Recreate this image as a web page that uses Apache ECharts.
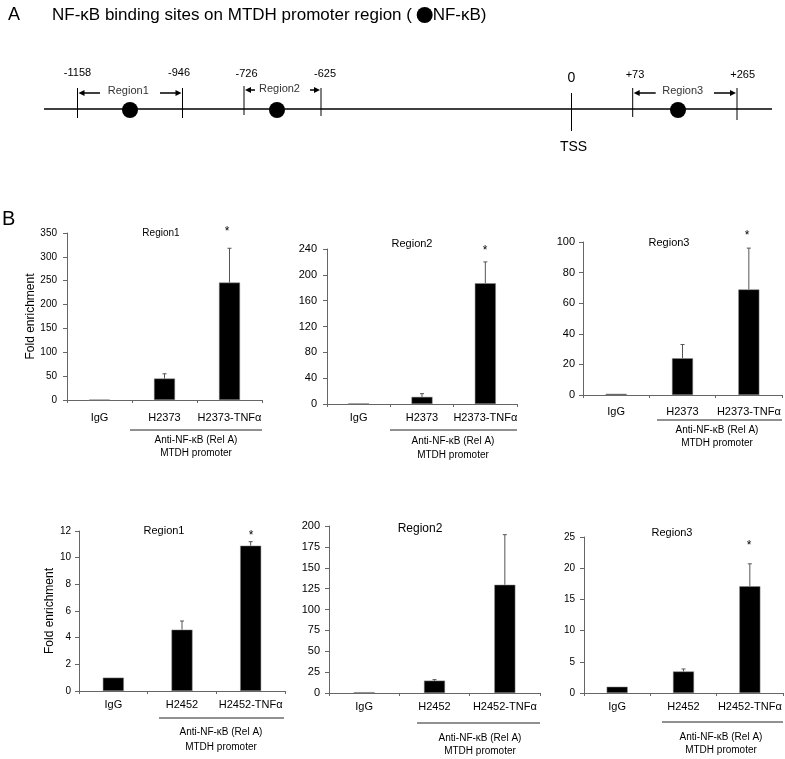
<!DOCTYPE html>
<html><head><meta charset="utf-8">
<script src="https://cdn.jsdelivr.net/npm/echarts@6/dist/echarts.min.js"></script>
<style>html,body{margin:0;padding:0;background:#fff}#c{width:785px;height:759px}</style>
</head><body><div id="c"></div><script>
// ---------------- DATA ----------------
const categoriesH2373 = ['IgG', 'H2373', 'H2373-TNFα'];
const categoriesH2452 = ['IgG', 'H2452', 'H2452-TNFα'];
const regionTitles = ['Region1', 'Region2', 'Region3'];

const h2373Region1 = [1, 45, 246];
const h2373Region1Err = [0, 10, 72];
const h2373Region2 = [1, 11, 187];
const h2373Region2Err = [0, 5, 33];
const h2373Region3 = [0.8, 24, 69];
const h2373Region3Err = [0, 9, 27];

const h2452Region1 = [1, 4.6, 10.9];
const h2452Region1Err = [0, 0.65, 0.3];
const h2452Region2 = [1, 14.8, 129.6];
const h2452Region2Err = [0, 1.2, 60];
const h2452Region3 = [1, 3.45, 17.1];
const h2452Region3Err = [0, 0.4, 3.6];

const yMax = [350, 240, 100, 12, 200, 25];
const yInterval = [50, 40, 20, 2, 25, 5];
const significant = [true, true, true, true, false, true];

const siteLabels = ['-1158', '-946', '-726', '-625', '0', '+73', '+265'];
const regionNames = ['Region1', 'Region2', 'Region3'];
const groupLabel = 'Anti-NF-κB (Rel A)';
const promoterLabel = 'MTDH promoter';
const yName = 'Fold enrichment';

// ---------------- LAYOUT ----------------
const FONT = "'Liberation Sans', Arial, sans-serif";
const panels = [
  {left: 67, top: 233, width: 195, height: 167, cats: categoriesH2373, means: h2373Region1, errs: h2373Region1Err, title: regionTitles[0], tfs: 10, lfs: 10, lm: 10, xm: 12, titleXY: [161, 233], star: [227, 232], ul: [130, 262, 430], txtX: 196, txtY: [440, 453], name: true, nameGap: 27},
  {left: 327, top: 249, width: 190, height: 155, cats: categoriesH2373, means: h2373Region2, errs: h2373Region2Err, title: regionTitles[1], tfs: 11, lfs: 11, lm: 10, xm: 8, titleXY: [412, 244], star: [485, 251], ul: [390, 517, 430], txtX: 453, txtY: [441, 455]},
  {left: 583, top: 242, width: 199, height: 153, cats: categoriesH2373, means: h2373Region3, errs: h2373Region3Err, title: regionTitles[2], tfs: 11, lfs: 11, lm: 8, xm: 11, titleXY: [669, 243], star: [747, 236], ul: [657, 782, 420], txtX: 717, txtY: [430, 443]},
  {left: 79, top: 531, width: 206, height: 160, cats: categoriesH2452, means: h2452Region1, errs: h2452Region1Err, title: regionTitles[0], tfs: 11, lfs: 10, lm: 8, xm: 8, titleXY: [164, 531], star: [251, 536], ul: [159, 284, 718], txtX: 221, txtY: [732, 747], name: true, nameGap: 19},
  {left: 329, top: 526, width: 211, height: 167, cats: categoriesH2452, means: h2452Region2, errs: h2452Region2Err, title: regionTitles[1], tfs: 12, lfs: 11, lm: 9, xm: 8, titleXY: [420, 529], star: null, ul: [417, 540, 723], txtX: 480, txtY: [738, 751]},
  {left: 584, top: 537, width: 199, height: 156, cats: categoriesH2452, means: h2452Region3, errs: h2452Region3Err, title: regionTitles[2], tfs: 11, lfs: 10, lm: 9, xm: 8, titleXY: [672, 533], star: [749, 546], ul: [662, 783, 722], txtX: 721, txtY: [737, 750]}
];

// schematic layout for panel A (diagram units = px along the drawn line)
const siteX = [77.5, 182.5, 244, 321, 571.5, 632.7, 737];
const siteLabelX = [77.5, 179, 246.5, 325, 571.5, 635, 742.7];
const siteLabelY = [72.5, 72.5, 74, 74, 78.5, 75, 75];
const tickTop = [88, 88, 86, 88, 93, 88, 88];
const tickBottom = [118, 118, 115, 116, 131, 117, 120];
const bindingX = [130, 277, 678];
const regionSites = [[0, 1], [2, 3], [5, 6]];
const regionLabelX = [128.3, 279.5, 682.7];
const regionLabelY = [91, 88.7, 90.7];
const regionArrowY = [93, 90, 93];
const regionArrowLen = [22.5, 11, 23];
const lineY = 109;
const lineSpan = [44, 772];

const grids = [], xAxes = [], yAxes = [], series = [], graphics = [];
const axisColor = '#666';

panels.forEach((p, i) => {
  grids.push({left: p.left, top: p.top, width: p.width, height: p.height});
  xAxes.push({
    gridIndex: i, type: 'category', data: p.cats,
    axisLine: {lineStyle: {color: axisColor, width: 1}},
    axisTick: {show: true, alignWithLabel: false, interval: 0, length: 3, lineStyle: {color: axisColor}},
    axisLabel: {interval: 0, color: '#000', fontSize: 11, fontFamily: FONT, margin: p.xm},
    splitLine: {show: false}
  });
  yAxes.push({
    gridIndex: i, type: 'value', min: 0, max: yMax[i], interval: yInterval[i],
    axisLine: {show: true, lineStyle: {color: axisColor, width: 1}},
    axisTick: {show: true, length: 4, lineStyle: {color: axisColor}},
    axisLabel: {color: '#000', fontSize: p.lfs, fontFamily: FONT, margin: p.lm},
    splitLine: {show: false},
    name: p.name ? yName : '', nameLocation: 'middle', nameGap: p.nameGap || 20,
    nameTextStyle: {fontSize: 12, fontFamily: FONT, color: '#000'}
  });
  series.push({
    type: 'bar', xAxisIndex: i, yAxisIndex: i, data: p.means, barWidth: 21,
    itemStyle: {color: '#000', borderColor: '#888', borderWidth: 0.5}, silent: true
  });
  series.push({
    type: 'custom', xAxisIndex: i, yAxisIndex: i, z: 5, silent: true,
    data: p.means.map((m, k) => [k, m, p.errs[k]]),
    renderItem: function (params, api) {
      const x = api.value(0), m = api.value(1), e = api.value(2);
      if (!e) return;
      const p0 = api.coord([x, m]);
      const p1 = api.coord([x, m + e]);
      return {type: 'group', children: [
        {type: 'line', shape: {x1: p0[0], y1: p0[1], x2: p1[0], y2: p1[1]}, style: {stroke: '#555', lineWidth: 1}},
        {type: 'line', shape: {x1: p1[0] - 2, y1: p1[1], x2: p1[0] + 2, y2: p1[1]}, style: {stroke: '#555', lineWidth: 1}}
      ]};
    }
  });
  // panel title
  graphics.push({type: 'text', x: p.titleXY[0], y: p.titleXY[1], style: {text: p.title, fontSize: p.tfs, fontFamily: FONT, fill: '#000', textAlign: 'center', textVerticalAlign: 'middle'}});
  if (significant[i] && p.star) {
    graphics.push({type: 'text', x: p.star[0], y: p.star[1], style: {text: '*', fontSize: 12, fontFamily: FONT, fill: '#000', textAlign: 'center', textVerticalAlign: 'middle'}});
  }
  graphics.push({type: 'line', shape: {x1: p.ul[0], y1: p.ul[2], x2: p.ul[1], y2: p.ul[2]}, style: {stroke: '#222', lineWidth: 1}});
  graphics.push({type: 'text', x: p.txtX, y: p.txtY[0], style: {text: groupLabel, fontSize: 10, fontFamily: FONT, fill: '#000', textAlign: 'center', textVerticalAlign: 'middle'}});
  graphics.push({type: 'text', x: p.txtX, y: p.txtY[1], style: {text: promoterLabel, fontSize: 10, fontFamily: FONT, fill: '#000', textAlign: 'center', textVerticalAlign: 'middle'}});
});

// ---------------- PANEL A (schematic) ----------------
const dg = grids.length;
grids.push({left: 0, top: 0, width: 785, height: 180});
xAxes.push({gridIndex: dg, type: 'value', min: 0, max: 785, show: false});
yAxes.push({gridIndex: dg, type: 'value', min: 0, max: 180, inverse: true, show: false});

series.push({
  type: 'line', xAxisIndex: dg, yAxisIndex: dg, symbol: 'none', silent: true,
  data: [[lineSpan[0], lineY], [lineSpan[1], lineY]],
  lineStyle: {color: '#000', width: 1.5}
});
series.push({
  type: 'custom', xAxisIndex: dg, yAxisIndex: dg, silent: true,
  data: siteLabels.map((s, i) => [siteX[i], i]),
  renderItem: function (params, api) {
    const i = api.value(1);
    const top = api.coord([api.value(0), tickTop[i]]);
    const bot = api.coord([api.value(0), tickBottom[i]]);
    const lab = api.coord([siteLabelX[i], siteLabelY[i]]);
    const isTSS = siteLabels[i] === '0';
    const ch = [
      {type: 'line', shape: {x1: top[0], y1: top[1], x2: bot[0], y2: bot[1]}, style: {stroke: '#000', lineWidth: 1}},
      {type: 'text', x: lab[0], y: lab[1], style: {text: siteLabels[i], fontSize: isTSS ? 14 : 11, fontFamily: FONT, fill: '#000', textAlign: 'center', textVerticalAlign: 'middle'}}
    ];
    if (isTSS) {
      const t = api.coord([api.value(0) + 2, 147]);
      ch.push({type: 'text', x: t[0], y: t[1], style: {text: 'TSS', fontSize: 14, fontFamily: FONT, fill: '#000', textAlign: 'center', textVerticalAlign: 'middle'}});
    }
    return {type: 'group', children: ch};
  }
});
series.push({
  type: 'scatter', xAxisIndex: dg, yAxisIndex: dg, silent: true, z: 5,
  data: bindingX.map(x => [x, lineY + 1]), symbol: 'circle', symbolSize: 16,
  itemStyle: {color: '#000', opacity: 1}
});
series.push({
  type: 'custom', xAxisIndex: dg, yAxisIndex: dg, silent: true,
  data: regionNames.map((r, i) => [i]),
  renderItem: function (params, api) {
    const i = api.value(0);
    const a = siteX[regionSites[i][0]], b = siteX[regionSites[i][1]];
    const L = regionArrowLen[i];
    const y = regionArrowY[i];
    const pa = api.coord([a, y]), pa2 = api.coord([a + L, y]);
    const pb = api.coord([b, y]), pb2 = api.coord([b - L, y]);
    const lab = api.coord([regionLabelX[i], regionLabelY[i]]);
    return {type: 'group', children: [
      {type: 'line', shape: {x1: pa[0] + 4, y1: pa[1], x2: pa2[0], y2: pa2[1]}, style: {stroke: '#000', lineWidth: 1.5}},
      {type: 'polygon', shape: {points: [[pa[0] + 1, pa[1]], [pa[0] + 7, pa[1] - 3], [pa[0] + 7, pa[1] + 3]]}, style: {fill: '#000'}},
      {type: 'line', shape: {x1: pb[0] - 4, y1: pb[1], x2: pb2[0], y2: pb2[1]}, style: {stroke: '#000', lineWidth: 1.5}},
      {type: 'polygon', shape: {points: [[pb[0] - 1, pb[1]], [pb[0] - 7, pb[1] - 3], [pb[0] - 7, pb[1] + 3]]}, style: {fill: '#000'}},
      {type: 'text', x: lab[0], y: lab[1], style: {text: regionNames[i], fontSize: 11, fontFamily: FONT, fill: '#333', textAlign: 'center', textVerticalAlign: 'middle'}}
    ]};
  }
});

graphics.push({type: 'text', x: 8, y: 15, style: {text: 'A', fontSize: 18, fontFamily: FONT, fill: '#000', textVerticalAlign: 'middle'}});
graphics.push({type: 'text', x: 52, y: 15, style: {
  text: '{t|NF-κB binding sites on MTDH promoter region ( }{c|}{t|NF-κB)}',
  rich: {
    t: {fontSize: 17, fontFamily: FONT, fill: '#000', color: '#000'},
    c: {width: 16, height: 16, borderRadius: 8, backgroundColor: '#000'}
  },
  textVerticalAlign: 'middle'
}});
graphics.push({type: 'text', x: 2, y: 219, style: {text: 'B', fontSize: 20, fontFamily: FONT, fill: '#000', textVerticalAlign: 'middle'}});

const chart = echarts.init(document.getElementById('c'), null, {renderer: 'canvas'});
chart.setOption({
  animation: false,
  backgroundColor: '#fff',
  grid: grids, xAxis: xAxes, yAxis: yAxes, series: series,
  graphic: graphics
});
</script></body></html>
